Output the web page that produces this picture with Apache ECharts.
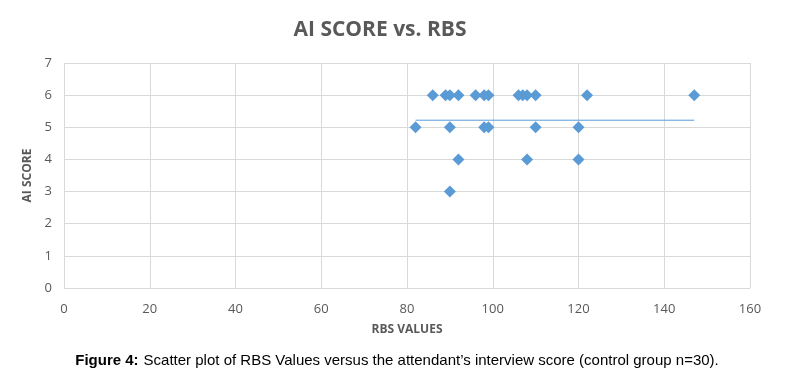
<!DOCTYPE html>
<html>
<head>
<meta charset="utf-8">
<script src="https://cdn.jsdelivr.net/npm/echarts@6/dist/echarts.min.js"></script>
<style>
  html, body { margin: 0; padding: 0; background: #fff; }
  #chart { width: 796px; height: 369px; }
</style>
</head>
<body>
<div id="chart"></div>
<script>
// RBS value / AI score pairs
const rbsValues = [86, 89, 90, 92, 96, 98, 99, 106, 107, 108, 110, 122, 147,
                   82, 90, 98, 99, 110, 120,
                   92, 108, 120,
                   90];
const aiScores  = [6, 6, 6, 6, 6, 6, 6, 6, 6, 6, 6, 6, 6,
                   5, 5, 5, 5, 5, 5,
                   4, 4, 4,
                   3];
// linear trendline end points (as drawn)
const trendX = [82, 147];
const trendY = [5.22, 5.22];

const chart = echarts.init(document.getElementById('chart'));

const points = rbsValues.map((v, i) => [v, aiScores[i]]);
const trend = trendX.map((v, i) => [v, trendY[i]]);

const grey = '#595959';
const gridColor = '#d9d9d9';

const option = {
  backgroundColor: '#fff',
  animation: false,
  title: [{
    text: 'AI SCORE vs. RBS',
    left: 375,
    top: 15,
    textAlign: 'center',
    textStyle: {
      fontFamily: 'Open Sans',
      fontWeight: 'bold',
      fontSize: 21,
      color: grey
    }
  }, {
    text: '{b|Figure 4:} {n|Scatter plot of RBS Values versus the attendant\u2019s interview score (control group n=30).}',
    left: 392,
    top: 347,
    textAlign: 'center',
    textStyle: {
      fontWeight: 'normal',
      rich: {
        b: { fontFamily: 'Liberation Sans', fontWeight: 'bold', fontSize: 15, color: '#000' },
        n: { fontFamily: 'Liberation Sans', fontWeight: 'normal', fontSize: 15, color: '#000' }
      }
    }
  }],
  grid: {
    left: 64,
    right: 46,
    top: 63,
    bottom: 81
  },
  xAxis: {
    type: 'value',
    min: 0,
    max: 160,
    interval: 20,
    name: 'RBS VALUES',
    nameLocation: 'middle',
    nameGap: 36,
    nameTextStyle: { fontFamily: 'Open Sans', fontWeight: 'bold', fontSize: 12, color: grey },
    axisLine: { show: false },
    axisTick: { show: false },
    axisLabel: { fontFamily: 'Open Sans', fontSize: 13, color: grey, margin: 15 },
    splitLine: { show: true, lineStyle: { color: gridColor, width: 1 } }
  },
  yAxis: {
    type: 'value',
    min: 0,
    max: 7,
    interval: 1,
    name: 'AI SCORE',
    nameLocation: 'middle',
    nameGap: 28,
    nameRotate: 90,
    nameTextStyle: { fontFamily: 'Open Sans', fontWeight: 'bold', fontSize: 12, color: grey },
    axisLine: { show: false },
    axisTick: { show: false },
    axisLabel: { fontFamily: 'Open Sans', fontSize: 13, color: grey, margin: 12 },
    splitLine: { show: true, lineStyle: { color: gridColor, width: 1 } }
  },
  series: [{
    name: 'AI SCORE',
    type: 'scatter',
    symbol: 'diamond',
    symbolSize: 12,
    itemStyle: { color: '#5b9bd5', opacity: 1 },
    data: points
  }, {
    name: 'trend',
    type: 'line',
    symbol: 'none',
    lineStyle: { color: '#5b9bd5', width: 1 },
    data: trend,
    z: 1
  }]
};

chart.setOption(option);
</script>
</body>
</html>
